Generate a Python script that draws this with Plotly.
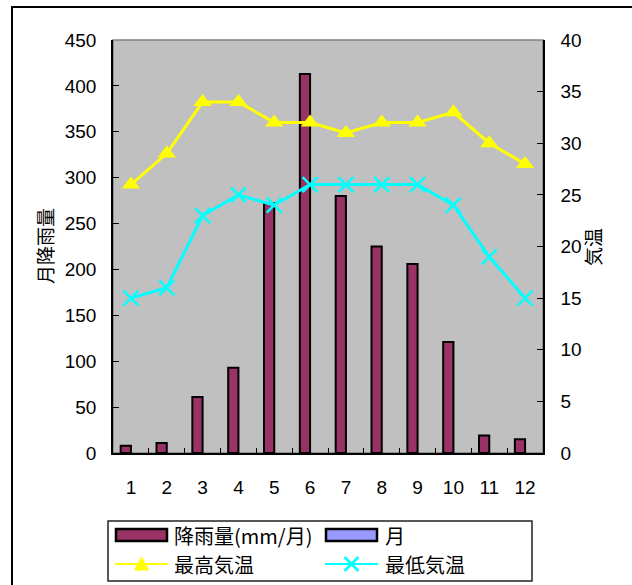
import plotly.graph_objects as go

months = ["1", "2", "3", "4", "5", "6", "7", "8", "9", "10", "11", "12"]
rainfall = [8, 11, 61, 93, 272, 413, 280, 225, 206, 121, 19, 15]
month_series = [None] * 12
max_temp = [26, 29, 34, 34, 32, 32, 31, 32, 32, 33, 30, 28]
min_temp = [15, 16, 23, 25, 24, 26, 26, 26, 26, 24, 19, 15]

left_ticks = list(range(0, 451, 50))
right_ticks = list(range(0, 41, 5))

names = ["降雨量(mm/月)", "月", "最高気温", "最低気温"]
colors = ["#993366", "#9999FF", "#FFFF00", "#00FFFF"]

W, H = 632, 585
L, R, T, B = 113, 543, 40, 453
pw, ph = R - L, B - T


def px(x):
    return (x - L) / pw


def py(y):
    return (B - y) / ph


FONT = "Arial, Liberation Sans, Noto Sans CJK JP, sans-serif"
CJK = "Noto Sans CJK JP, sans-serif"

fig = go.Figure()
fig.add_trace(go.Bar(x=months, y=rainfall, name=names[0],
                     marker=dict(color=colors[0], line=dict(color="black", width=2))))
fig.add_trace(go.Bar(x=months, y=month_series, name=names[1],
                     marker=dict(color=colors[1], line=dict(color="black", width=2))))
fig.add_trace(go.Scatter(x=months, y=max_temp, name=names[2], yaxis="y2",
                         mode="lines+markers",
                         line=dict(color=colors[2], width=3),
                         marker=dict(symbol="triangle-up", size=16, color=colors[2])))
fig.add_trace(go.Scatter(x=months, y=min_temp, name=names[3], yaxis="y2",
                         mode="lines+markers",
                         line=dict(color=colors[3], width=3),
                         marker=dict(symbol="x-thin", size=15,
                                     line=dict(color=colors[3], width=2.5))))

# ---- custom legend (box, swatches, text) ----
shapes = [
    dict(type="rect", xref="paper", yref="paper", x0=0, x1=1, y0=0, y1=1,
         line=dict(color="#808080", width=1.5), layer="below"),
    dict(type="rect", xref="paper", yref="paper", x0=px(12), x1=px(660),
         y0=py(610), y1=py(7), line=dict(color="black", width=2)),
    dict(type="rect", xref="paper", yref="paper", x0=px(108), x1=px(532),
         y0=py(581), y1=py(521), line=dict(color="#222222", width=1.5),
         fillcolor="white"),
]
annotations = []
cols = [(115, 168, 172), (325, 378, 383)]
rows = [535, 564]
for i, name in enumerate(names):
    r, c = divmod(i, 2)
    sx0, sx1, tx = cols[c]
    yc = rows[r]
    if r == 0:
        shapes.append(dict(type="rect", xref="paper", yref="paper",
                           x0=px(sx0 + 1), x1=px(sx1 - 1), y0=py(yc + 6), y1=py(yc - 6),
                           fillcolor=colors[i], line=dict(color="black", width=2.5)))
    else:
        shapes.append(dict(type="line", xref="paper", yref="paper",
                           x0=px(sx0), x1=px(sx1), y0=py(yc), y1=py(yc),
                           line=dict(color=colors[i], width=2)))
        xm = px((sx0 + sx1) / 2)
        ym = py(yc)
        if i == 2:
            shapes.append(dict(type="path", xref="paper", yref="paper",
                               xsizemode="pixel", ysizemode="pixel",
                               xanchor=xm, yanchor=ym,
                               path="M -7 -6 L 7 -6 L 0 7 Z",
                               fillcolor=colors[i], line=dict(color=colors[i], width=1)))
        else:
            shapes.append(dict(type="path", xref="paper", yref="paper",
                               xsizemode="pixel", ysizemode="pixel",
                               xanchor=xm, yanchor=ym,
                               path="M -7 -7 L 7 7 M -7 7 L 7 -7",
                               line=dict(color=colors[i], width=2.5)))
    annotations.append(dict(text=name, xref="paper", yref="paper", x=px(tx), y=py(yc),
                            xanchor="left", yanchor="middle", showarrow=False,
                            font=dict(family=CJK, size=20, color="black")))

annotations += [
    dict(text="月降雨量", xref="paper", yref="paper", x=px(44), y=py(246),
         xanchor="center", yanchor="middle",
         showarrow=False, textangle=-90, font=dict(family=CJK, size=19)),
    dict(text="気温", xref="paper", yref="paper", x=px(592), y=py(247),
         xanchor="center", yanchor="middle",
         showarrow=False, textangle=-90, font=dict(family=CJK, size=19)),
]

fig.update_layout(
    width=W, height=H,
    margin=dict(l=L, r=W - R, t=T, b=H - B, pad=0),
    paper_bgcolor="white",
    plot_bgcolor="#C0C0C0",
    font=dict(family=FONT, size=19, color="black"),
    showlegend=False,
    barmode="group", bargap=0.4286, bargroupgap=0,
    xaxis=dict(type="category", range=[-0.5, len(months) - 0.5], showgrid=False,
               showline=True, linecolor="black",
               linewidth=1.5, ticks="inside", tickson="boundaries", ticklen=5,
               tickcolor="black", ticklabelstandoff=16, automargin=False,
               tickfont=dict(size=19)),
    yaxis=dict(range=[0, 450], tickvals=left_ticks, showgrid=False, zeroline=False,
               showline=True, linecolor="black", linewidth=1.5, ticks="inside",
               ticklen=6, tickcolor="black", ticklabelstandoff=11, automargin=False,
               tickfont=dict(size=19)),
    yaxis2=dict(range=[0, 40], tickvals=right_ticks, overlaying="y", side="right",
                showgrid=False, zeroline=False, showline=True, linecolor="black",
                linewidth=1.5, ticks="inside", ticklen=6, tickcolor="black",
                ticklabelstandoff=12, automargin=False, tickfont=dict(size=19)),
    shapes=shapes,
    annotations=annotations,
)

fig.write_html("out.html", config={"displayModeBar": False},
               post_script="document.body.style.margin='0';document.body.style.overflow='hidden';")
